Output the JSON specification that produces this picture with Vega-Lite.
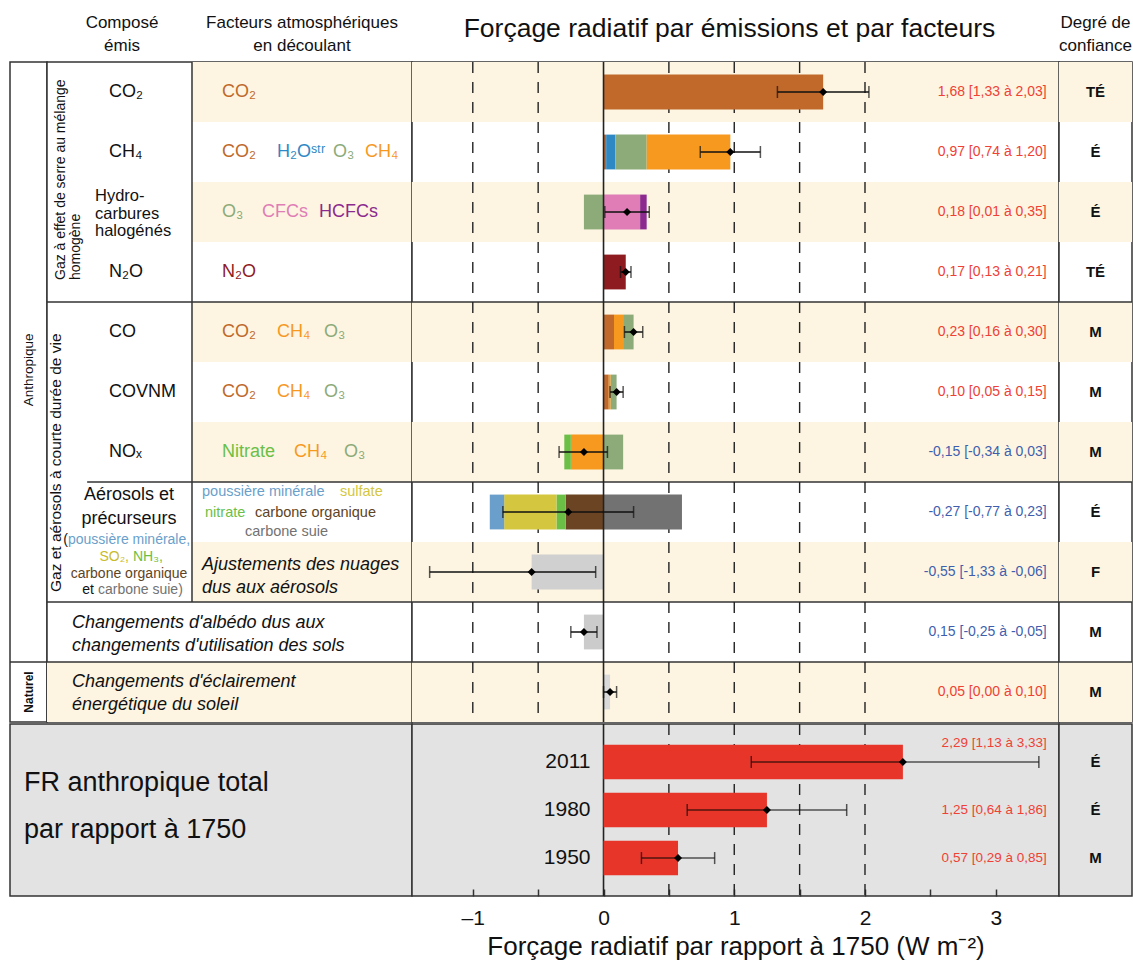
{
"$schema": "https://vega.github.io/schema/vega-lite/v6.json",
"background": "white",
"padding": {"left": 8, "top": 12, "right": 3, "bottom": 2},
"config": {"font": "Liberation Sans", "view": {"stroke": null}, "concat": {"spacing": 0}},
"datasets": {
 "lignes": [
  {"row":"CO2","valeur":1.68,"bas":1.33,"haut":2.03,"etiquette":"1,68 [1,33 à 2,03]","conf":"TÉ"},
  {"row":"CH4","valeur":0.97,"bas":0.74,"haut":1.20,"etiquette":"0,97 [0,74 à 1,20]","conf":"É"},
  {"row":"Halo","valeur":0.18,"bas":0.01,"haut":0.35,"etiquette":"0,18 [0,01 à 0,35]","conf":"É"},
  {"row":"N2O","valeur":0.17,"bas":0.13,"haut":0.21,"etiquette":"0,17 [0,13 à 0,21]","conf":"TÉ"},
  {"row":"CO","valeur":0.23,"bas":0.16,"haut":0.30,"etiquette":"0,23 [0,16 à 0,30]","conf":"M"},
  {"row":"COVNM","valeur":0.10,"bas":0.05,"haut":0.15,"etiquette":"0,10 [0,05 à 0,15]","conf":"M"},
  {"row":"NOx","valeur":-0.15,"bas":-0.34,"haut":0.03,"etiquette":"-0,15 [-0,34 à 0,03]","conf":"M"},
  {"row":"Aer","valeur":-0.27,"bas":-0.77,"haut":0.23,"etiquette":"-0,27 [-0,77 à 0,23]","conf":"É"},
  {"row":"Nuages","valeur":-0.55,"bas":-1.33,"haut":-0.06,"etiquette":"-0,55 [-1,33 à -0,06]","conf":"F"},
  {"row":"Albedo","valeur":-0.15,"bas":-0.25,"haut":-0.05,"etiquette":"0,15 [-0,25 à -0,05]","conf":"M"},
  {"row":"Soleil","valeur":0.05,"bas":0.00,"haut":0.10,"etiquette":"0,05 [0,00 à 0,10]","conf":"M"}
 ],
 "composantes": [
  {"row":"CO2","comp":"CO2","val":1.68,"ordre":1},
  {"row":"CH4","comp":"CO2","val":0.02,"ordre":1},
  {"row":"CH4","comp":"H2O","val":0.07,"ordre":2},
  {"row":"CH4","comp":"O3","val":0.24,"ordre":3},
  {"row":"CH4","comp":"CH4","val":0.64,"ordre":4},
  {"row":"Halo","comp":"O3","val":-0.15,"ordre":1},
  {"row":"Halo","comp":"CFC","val":0.28,"ordre":2},
  {"row":"Halo","comp":"HCFC","val":0.05,"ordre":3},
  {"row":"N2O","comp":"N2O","val":0.17,"ordre":1},
  {"row":"CO","comp":"CO2","val":0.08,"ordre":1},
  {"row":"CO","comp":"CH4","val":0.07,"ordre":2},
  {"row":"CO","comp":"O3","val":0.08,"ordre":3},
  {"row":"COVNM","comp":"CO2","val":0.04,"ordre":1},
  {"row":"COVNM","comp":"CH4","val":0.015,"ordre":2},
  {"row":"COVNM","comp":"O3","val":0.045,"ordre":3},
  {"row":"NOx","comp":"CH4","val":-0.25,"ordre":1},
  {"row":"NOx","comp":"Nitrate","val":-0.05,"ordre":2},
  {"row":"NOx","comp":"O3","val":0.15,"ordre":3},
  {"row":"Aer","comp":"COrg","val":-0.29,"ordre":1},
  {"row":"Aer","comp":"Nitrate","val":-0.07,"ordre":2},
  {"row":"Aer","comp":"Sulfate","val":-0.40,"ordre":3},
  {"row":"Aer","comp":"Poussiere","val":-0.11,"ordre":4},
  {"row":"Aer","comp":"Suie","val":0.60,"ordre":5},
  {"row":"Nuages","comp":"Nuages","val":-0.55,"ordre":1},
  {"row":"Albedo","comp":"Albedo","val":-0.15,"ordre":1},
  {"row":"Soleil","comp":"Soleil","val":0.05,"ordre":1}
 ],
 "totaux": [
  {"row":"2011","valeur":2.29,"bas":1.13,"haut":3.33,"etiquette":"2,29 [1,13 à 3,33]","conf":"É"},
  {"row":"1980","valeur":1.25,"bas":0.64,"haut":1.86,"etiquette":"1,25 [0,64 à 1,86]","conf":"É"},
  {"row":"1950","valeur":0.57,"bas":0.29,"haut":0.85,"etiquette":"0,57 [0,29 à 0,85]","conf":"M"}
 ],
 "noms": [
  {"row":"CO2","t":"CO₂"},
  {"row":"CH4","t":"CH₄"},
  {"row":"N2O","t":"N₂O"},
  {"row":"CO","t":"CO"},
  {"row":"COVNM","t":"COVNM"},
  {"row":"NOx","t":"NOₓ"}
 ],
 "jetons": [
  {"row":"CO2","ordre":1,"comp":"CO2","t":"CO₂"},
  {"row":"CH4","ordre":1,"comp":"CO2","t":"CO₂"},
  {"row":"CH4","ordre":2,"comp":"H2O","t":"H₂Oˢᵗʳ"},
  {"row":"CH4","ordre":3,"comp":"O3","t":"O₃"},
  {"row":"CH4","ordre":4,"comp":"CH4","t":"CH₄"},
  {"row":"Halo","ordre":1,"comp":"O3","t":"O₃"},
  {"row":"Halo","ordre":2,"comp":"CFC","t":"CFCs"},
  {"row":"Halo","ordre":3,"comp":"HCFC","t":"HCFCs"},
  {"row":"N2O","ordre":1,"comp":"N2O","t":"N₂O"},
  {"row":"CO","ordre":1,"comp":"CO2","t":"CO₂"},
  {"row":"CO","ordre":2,"comp":"CH4","t":"CH₄"},
  {"row":"CO","ordre":3,"comp":"O3","t":"O₃"},
  {"row":"COVNM","ordre":1,"comp":"CO2","t":"CO₂"},
  {"row":"COVNM","ordre":2,"comp":"CH4","t":"CH₄"},
  {"row":"COVNM","ordre":3,"comp":"O3","t":"O₃"},
  {"row":"NOx","ordre":1,"comp":"Nitrate","t":"Nitrate"},
  {"row":"NOx","ordre":2,"comp":"CH4","t":"CH₄"},
  {"row":"NOx","ordre":3,"comp":"O3","t":"O₃"}
 ]
},
"spacing": -4,
"vconcat": [
 {
  "spacing": 0,
  "bounds": "flush",
  "hconcat": [
   {
    "width": 37, "height": 660,
    "view": {"fill": "white", "stroke": "#333", "strokeWidth": 1.5},
    "title": {"text": ["Composé", "émis"], "fontSize": 17, "fontWeight": "normal", "color": "#111", "anchor": "middle", "baseline": "bottom", "offset": -9.5, "lineHeight": 23, "dx": 93.5},
    "layer": [
     {"data": {"values": [{"row": "Soleil"}]}, "mark": {"type": "rule", "color": "#333", "strokeWidth": 1.5},
      "encoding": {"y": {"field": "row", "type": "nominal", "bandPosition": 0, "scale": {"type":"band","domain":["CO2","CH4","Halo","N2O","CO","COVNM","NOx","Aer","Nuages","Albedo","Soleil"],"paddingInner":0,"paddingOuter":0}, "axis": null}}},
     {"data": {"values": [{"t": "Anthropique"}]}, "mark": {"type": "text", "angle": 270, "fontSize": 13.5, "align": "center", "baseline": "middle", "color": "#111"},
      "encoding": {"text": {"field": "t", "type": "nominal"}, "y": {"datum": "COVNM", "type": "nominal", "bandPosition": 0.13, "scale": {"type":"band","domain":["CO2","CH4","Halo","N2O","CO","COVNM","NOx","Aer","Nuages","Albedo","Soleil"],"paddingInner":0,"paddingOuter":0}, "axis": null}}},
     {"data": {"values": [{"t": "Naturel"}]}, "mark": {"type": "text", "angle": 270, "fontSize": 12, "fontWeight": "bold", "align": "center", "baseline": "middle", "color": "#111"},
      "encoding": {"text": {"field": "t", "type": "nominal"}, "y": {"datum": "Soleil", "type": "nominal", "scale": {"type":"band","domain":["CO2","CH4","Halo","N2O","CO","COVNM","NOx","Aer","Nuages","Albedo","Soleil"],"paddingInner":0,"paddingOuter":0}, "axis": null}}}
    ]
   },
   {
    "width": 365, "height": 660,
    "view": {"fill": "white", "stroke": "#333", "strokeWidth": 1.5},
    "title": {"text": ["Facteurs atmosphériques", "en découlant"], "fontSize": 17, "fontWeight": "normal", "color": "#111", "anchor": "middle", "baseline": "bottom", "offset": -9.5, "lineHeight": 23, "dx": 72.5},
    "layer": [
     {"data": {"name": "lignes"}, "transform": [{"filter": {"field": "row", "oneOf": ["CO2","Halo","CO","NOx","Nuages"]}}],
      "mark": {"type": "rect", "color": "#fdf5e1"},
      "encoding": {"x": {"datum": 0.3973, "type": "quantitative", "scale": {"domain":[0,1],"nice":false,"zero":false}, "axis": null}, "x2": {"datum": 1},
       "y": {"field": "row", "type": "nominal", "scale": {"type":"band","domain":["CO2","CH4","Halo","N2O","CO","COVNM","NOx","Aer","Nuages","Albedo","Soleil"],"paddingInner":0,"paddingOuter":0}, "axis": null}}},
     {"data": {"name": "lignes"}, "transform": [{"filter": {"field": "row", "oneOf": ["Soleil"]}}],
      "mark": {"type": "rect", "color": "#fdf5e1"},
      "encoding": {"x": {"datum": 0, "type": "quantitative", "scale": {"domain":[0,1],"nice":false,"zero":false}, "axis": null}, "x2": {"datum": 1},
       "y": {"field": "row", "type": "nominal", "scale": {"type":"band","domain":["CO2","CH4","Halo","N2O","CO","COVNM","NOx","Aer","Nuages","Albedo","Soleil"],"paddingInner":0,"paddingOuter":0}, "axis": null}}},
     {"data": {"name": "lignes"}, "transform": [{"filter": {"field": "row", "oneOf": ["CO2","CH4","Halo","N2O","CO","COVNM","NOx","Aer","Nuages"]}}],
      "mark": {"type": "rect", "color": "#333"},
      "encoding": {"x": {"datum": 0.3952, "type": "quantitative", "scale": {"domain":[0,1],"nice":false,"zero":false}, "axis": null}, "x2": {"datum": 0.3993},
       "y": {"field": "row", "type": "nominal", "scale": {"type":"band","domain":["CO2","CH4","Halo","N2O","CO","COVNM","NOx","Aer","Nuages","Albedo","Soleil"],"paddingInner":0,"paddingOuter":0}, "axis": null}}},
     {"data": {"values": [{"row": "CO"}, {"row": "Albedo"}, {"row": "Soleil"}]},
      "mark": {"type": "rule", "color": "#333", "strokeWidth": 1.5},
      "encoding": {"x": {"datum": 0, "type": "quantitative", "scale": {"domain":[0,1],"nice":false,"zero":false}, "axis": null}, "x2": {"datum": 1},
       "y": {"field": "row", "type": "nominal", "bandPosition": 0, "scale": {"type":"band","domain":["CO2","CH4","Halo","N2O","CO","COVNM","NOx","Aer","Nuages","Albedo","Soleil"],"paddingInner":0,"paddingOuter":0}, "axis": null}}},
     {"data": {"values": [{"row": "Aer"}]},
      "mark": {"type": "rule", "color": "#333", "strokeWidth": 1.5},
      "encoding": {"x": {"datum": 0.11, "type": "quantitative", "scale": {"domain":[0,1],"nice":false,"zero":false}, "axis": null}, "x2": {"datum": 1},
       "y": {"field": "row", "type": "nominal", "bandPosition": 0, "scale": {"type":"band","domain":["CO2","CH4","Halo","N2O","CO","COVNM","NOx","Aer","Nuages","Albedo","Soleil"],"paddingInner":0,"paddingOuter":0}, "axis": null}}},
     {"data": {"name": "noms"},
      "mark": {"type": "text", "align": "left", "baseline": "middle", "fontSize": 18, "color": "#111"},
      "encoding": {"text": {"field": "t", "type": "nominal"},
       "x": {"datum": 0.170, "type": "quantitative", "scale": {"domain":[0,1],"nice":false,"zero":false}, "axis": null},
       "y": {"field": "row", "type": "nominal", "scale": {"type":"band","domain":["CO2","CH4","Halo","N2O","CO","COVNM","NOx","Aer","Nuages","Albedo","Soleil"],"paddingInner":0,"paddingOuter":0}, "axis": null}}},
     {"data": {"values": [{"t": ["Hydro-", "carbures", "halogénés"]}]},
      "mark": {"type": "text", "align": "left", "baseline": "middle", "fontSize": 16.5, "lineHeight": 17.5, "color": "#111"},
      "encoding": {"text": {"field": "t", "type": "nominal"},
       "x": {"datum": 0.1315, "type": "quantitative", "scale": {"domain":[0,1],"nice":false,"zero":false}, "axis": null},
       "y": {"datum": "Halo", "type": "nominal", "bandPosition": 0.24, "scale": {"type":"band","domain":["CO2","CH4","Halo","N2O","CO","COVNM","NOx","Aer","Nuages","Albedo","Soleil"],"paddingInner":0,"paddingOuter":0}, "axis": null}}},
     {"data": {"name": "jetons"}, "transform": [{"filter": "datum.ordre == 1"}],
      "mark": {"type": "text", "align": "left", "baseline": "middle", "fontSize": 18},
      "encoding": {"text": {"field": "t", "type": "nominal"},
       "color": {"field": "comp", "type": "nominal", "legend": null, "scale": {"domain": ["CO2","H2O","O3","CH4","CFC","HCFC","N2O","Nitrate","Poussiere","Sulfate","COrg","Suie","Nuages","Albedo","Soleil","Noir"], "range": ["#c0692b","#2e88c4","#8cab79","#f7991f","#e07db6","#8c2a8f","#8e1b1f","#6bbf47","#6a9fcb","#d4c73f","#6b4423","#727272","#d0d0d0","#cbcbcb","#d9d9d9","#111111"]}},
       "x": {"datum": 0.4795, "type": "quantitative", "scale": {"domain":[0,1],"nice":false,"zero":false}, "axis": null},
       "y": {"field": "row", "type": "nominal", "scale": {"type":"band","domain":["CO2","CH4","Halo","N2O","CO","COVNM","NOx","Aer","Nuages","Albedo","Soleil"],"paddingInner":0,"paddingOuter":0}, "axis": null}}},
     {"data": {"name": "jetons"}, "transform": [{"filter": "datum.ordre == 2 && indexof(['CH4','CO','COVNM'], datum.row) >= 0"}],
      "mark": {"type": "text", "align": "left", "baseline": "middle", "fontSize": 18},
      "encoding": {"text": {"field": "t", "type": "nominal"},
       "color": {"field": "comp", "type": "nominal", "legend": null, "scale": {"domain": ["CO2","H2O","O3","CH4","CFC","HCFC","N2O","Nitrate","Poussiere","Sulfate","COrg","Suie","Nuages","Albedo","Soleil","Noir"], "range": ["#c0692b","#2e88c4","#8cab79","#f7991f","#e07db6","#8c2a8f","#8e1b1f","#6bbf47","#6a9fcb","#d4c73f","#6b4423","#727272","#d0d0d0","#cbcbcb","#d9d9d9","#111111"]}},
       "x": {"datum": 0.6301, "type": "quantitative", "scale": {"domain":[0,1],"nice":false,"zero":false}, "axis": null},
       "y": {"field": "row", "type": "nominal", "scale": {"type":"band","domain":["CO2","CH4","Halo","N2O","CO","COVNM","NOx","Aer","Nuages","Albedo","Soleil"],"paddingInner":0,"paddingOuter":0}, "axis": null}}},
     {"data": {"name": "jetons"}, "transform": [{"filter": "datum.ordre == 2 && datum.row == 'Halo'"}],
      "mark": {"type": "text", "align": "left", "baseline": "middle", "fontSize": 18},
      "encoding": {"text": {"field": "t", "type": "nominal"},
       "color": {"field": "comp", "type": "nominal", "legend": null, "scale": {"domain": ["CO2","H2O","O3","CH4","CFC","HCFC","N2O","Nitrate","Poussiere","Sulfate","COrg","Suie","Nuages","Albedo","Soleil","Noir"], "range": ["#c0692b","#2e88c4","#8cab79","#f7991f","#e07db6","#8c2a8f","#8e1b1f","#6bbf47","#6a9fcb","#d4c73f","#6b4423","#727272","#d0d0d0","#cbcbcb","#d9d9d9","#111111"]}},
       "x": {"datum": 0.589, "type": "quantitative", "scale": {"domain":[0,1],"nice":false,"zero":false}, "axis": null},
       "y": {"field": "row", "type": "nominal", "scale": {"type":"band","domain":["CO2","CH4","Halo","N2O","CO","COVNM","NOx","Aer","Nuages","Albedo","Soleil"],"paddingInner":0,"paddingOuter":0}, "axis": null}}},
     {"data": {"name": "jetons"}, "transform": [{"filter": "datum.ordre == 2 && datum.row == 'NOx'"}],
      "mark": {"type": "text", "align": "left", "baseline": "middle", "fontSize": 18},
      "encoding": {"text": {"field": "t", "type": "nominal"},
       "color": {"field": "comp", "type": "nominal", "legend": null, "scale": {"domain": ["CO2","H2O","O3","CH4","CFC","HCFC","N2O","Nitrate","Poussiere","Sulfate","COrg","Suie","Nuages","Albedo","Soleil","Noir"], "range": ["#c0692b","#2e88c4","#8cab79","#f7991f","#e07db6","#8c2a8f","#8e1b1f","#6bbf47","#6a9fcb","#d4c73f","#6b4423","#727272","#d0d0d0","#cbcbcb","#d9d9d9","#111111"]}},
       "x": {"datum": 0.6767, "type": "quantitative", "scale": {"domain":[0,1],"nice":false,"zero":false}, "axis": null},
       "y": {"field": "row", "type": "nominal", "scale": {"type":"band","domain":["CO2","CH4","Halo","N2O","CO","COVNM","NOx","Aer","Nuages","Albedo","Soleil"],"paddingInner":0,"paddingOuter":0}, "axis": null}}},
     {"data": {"name": "jetons"}, "transform": [{"filter": "datum.ordre == 3 && datum.row == 'CH4'"}],
      "mark": {"type": "text", "align": "left", "baseline": "middle", "fontSize": 18},
      "encoding": {"text": {"field": "t", "type": "nominal"},
       "color": {"field": "comp", "type": "nominal", "legend": null, "scale": {"domain": ["CO2","H2O","O3","CH4","CFC","HCFC","N2O","Nitrate","Poussiere","Sulfate","COrg","Suie","Nuages","Albedo","Soleil","Noir"], "range": ["#c0692b","#2e88c4","#8cab79","#f7991f","#e07db6","#8c2a8f","#8e1b1f","#6bbf47","#6a9fcb","#d4c73f","#6b4423","#727272","#d0d0d0","#cbcbcb","#d9d9d9","#111111"]}},
       "x": {"datum": 0.7836, "type": "quantitative", "scale": {"domain":[0,1],"nice":false,"zero":false}, "axis": null},
       "y": {"field": "row", "type": "nominal", "scale": {"type":"band","domain":["CO2","CH4","Halo","N2O","CO","COVNM","NOx","Aer","Nuages","Albedo","Soleil"],"paddingInner":0,"paddingOuter":0}, "axis": null}}},
     {"data": {"name": "jetons"}, "transform": [{"filter": "datum.ordre == 3 && indexof(['CO','COVNM'], datum.row) >= 0"}],
      "mark": {"type": "text", "align": "left", "baseline": "middle", "fontSize": 18},
      "encoding": {"text": {"field": "t", "type": "nominal"},
       "color": {"field": "comp", "type": "nominal", "legend": null, "scale": {"domain": ["CO2","H2O","O3","CH4","CFC","HCFC","N2O","Nitrate","Poussiere","Sulfate","COrg","Suie","Nuages","Albedo","Soleil","Noir"], "range": ["#c0692b","#2e88c4","#8cab79","#f7991f","#e07db6","#8c2a8f","#8e1b1f","#6bbf47","#6a9fcb","#d4c73f","#6b4423","#727272","#d0d0d0","#cbcbcb","#d9d9d9","#111111"]}},
       "x": {"datum": 0.7589, "type": "quantitative", "scale": {"domain":[0,1],"nice":false,"zero":false}, "axis": null},
       "y": {"field": "row", "type": "nominal", "scale": {"type":"band","domain":["CO2","CH4","Halo","N2O","CO","COVNM","NOx","Aer","Nuages","Albedo","Soleil"],"paddingInner":0,"paddingOuter":0}, "axis": null}}},
     {"data": {"name": "jetons"}, "transform": [{"filter": "datum.ordre == 3 && datum.row == 'NOx'"}],
      "mark": {"type": "text", "align": "left", "baseline": "middle", "fontSize": 18},
      "encoding": {"text": {"field": "t", "type": "nominal"},
       "color": {"field": "comp", "type": "nominal", "legend": null, "scale": {"domain": ["CO2","H2O","O3","CH4","CFC","HCFC","N2O","Nitrate","Poussiere","Sulfate","COrg","Suie","Nuages","Albedo","Soleil","Noir"], "range": ["#c0692b","#2e88c4","#8cab79","#f7991f","#e07db6","#8c2a8f","#8e1b1f","#6bbf47","#6a9fcb","#d4c73f","#6b4423","#727272","#d0d0d0","#cbcbcb","#d9d9d9","#111111"]}},
       "x": {"datum": 0.8137, "type": "quantitative", "scale": {"domain":[0,1],"nice":false,"zero":false}, "axis": null},
       "y": {"field": "row", "type": "nominal", "scale": {"type":"band","domain":["CO2","CH4","Halo","N2O","CO","COVNM","NOx","Aer","Nuages","Albedo","Soleil"],"paddingInner":0,"paddingOuter":0}, "axis": null}}},
     {"data": {"name": "jetons"}, "transform": [{"filter": "datum.ordre == 3 && datum.row == 'Halo'"}],
      "mark": {"type": "text", "align": "left", "baseline": "middle", "fontSize": 18},
      "encoding": {"text": {"field": "t", "type": "nominal"},
       "color": {"field": "comp", "type": "nominal", "legend": null, "scale": {"domain": ["CO2","H2O","O3","CH4","CFC","HCFC","N2O","Nitrate","Poussiere","Sulfate","COrg","Suie","Nuages","Albedo","Soleil","Noir"], "range": ["#c0692b","#2e88c4","#8cab79","#f7991f","#e07db6","#8c2a8f","#8e1b1f","#6bbf47","#6a9fcb","#d4c73f","#6b4423","#727272","#d0d0d0","#cbcbcb","#d9d9d9","#111111"]}},
       "x": {"datum": 0.7452, "type": "quantitative", "scale": {"domain":[0,1],"nice":false,"zero":false}, "axis": null},
       "y": {"field": "row", "type": "nominal", "scale": {"type":"band","domain":["CO2","CH4","Halo","N2O","CO","COVNM","NOx","Aer","Nuages","Albedo","Soleil"],"paddingInner":0,"paddingOuter":0}, "axis": null}}},
     {"data": {"name": "jetons"}, "transform": [{"filter": "datum.ordre == 4"}],
      "mark": {"type": "text", "align": "left", "baseline": "middle", "fontSize": 18},
      "encoding": {"text": {"field": "t", "type": "nominal"},
       "color": {"field": "comp", "type": "nominal", "legend": null, "scale": {"domain": ["CO2","H2O","O3","CH4","CFC","HCFC","N2O","Nitrate","Poussiere","Sulfate","COrg","Suie","Nuages","Albedo","Soleil","Noir"], "range": ["#c0692b","#2e88c4","#8cab79","#f7991f","#e07db6","#8c2a8f","#8e1b1f","#6bbf47","#6a9fcb","#d4c73f","#6b4423","#727272","#d0d0d0","#cbcbcb","#d9d9d9","#111111"]}},
       "x": {"datum": 0.8712, "type": "quantitative", "scale": {"domain":[0,1],"nice":false,"zero":false}, "axis": null},
       "y": {"field": "row", "type": "nominal", "scale": {"type":"band","domain":["CO2","CH4","Halo","N2O","CO","COVNM","NOx","Aer","Nuages","Albedo","Soleil"],"paddingInner":0,"paddingOuter":0}, "axis": null}}},
     {"data": {"values": [{"t": "poussière minérale"}]},
      "mark": {"type": "text", "align": "left", "baseline": "middle", "fontSize": 14.5, "color": "#6a9fcb"},
      "encoding": {"text": {"field": "t", "type": "nominal"},
       "x": {"datum": 0.4247, "type": "quantitative", "scale": {"domain":[0,1],"nice":false,"zero":false}, "axis": null},
       "y": {"datum": "Aer", "type": "nominal", "bandPosition": 0.167, "scale": {"type":"band","domain":["CO2","CH4","Halo","N2O","CO","COVNM","NOx","Aer","Nuages","Albedo","Soleil"],"paddingInner":0,"paddingOuter":0}, "axis": null}}},
     {"data": {"values": [{"t": "sulfate"}]},
      "mark": {"type": "text", "align": "left", "baseline": "middle", "fontSize": 14.5, "color": "#d4c73f"},
      "encoding": {"text": {"field": "t", "type": "nominal"},
       "x": {"datum": 0.8027, "type": "quantitative", "scale": {"domain":[0,1],"nice":false,"zero":false}, "axis": null},
       "y": {"datum": "Aer", "type": "nominal", "bandPosition": 0.167, "scale": {"type":"band","domain":["CO2","CH4","Halo","N2O","CO","COVNM","NOx","Aer","Nuages","Albedo","Soleil"],"paddingInner":0,"paddingOuter":0}, "axis": null}}},
     {"data": {"values": [{"t": "nitrate"}]},
      "mark": {"type": "text", "align": "left", "baseline": "middle", "fontSize": 14.5, "color": "#6bbf47"},
      "encoding": {"text": {"field": "t", "type": "nominal"},
       "x": {"datum": 0.4329, "type": "quantitative", "scale": {"domain":[0,1],"nice":false,"zero":false}, "axis": null},
       "y": {"datum": "Aer", "type": "nominal", "bandPosition": 0.517, "scale": {"type":"band","domain":["CO2","CH4","Halo","N2O","CO","COVNM","NOx","Aer","Nuages","Albedo","Soleil"],"paddingInner":0,"paddingOuter":0}, "axis": null}}},
     {"data": {"values": [{"t": "carbone organique"}]},
      "mark": {"type": "text", "align": "left", "baseline": "middle", "fontSize": 14.5, "color": "#5e4424"},
      "encoding": {"text": {"field": "t", "type": "nominal"},
       "x": {"datum": 0.5699, "type": "quantitative", "scale": {"domain":[0,1],"nice":false,"zero":false}, "axis": null},
       "y": {"datum": "Aer", "type": "nominal", "bandPosition": 0.517, "scale": {"type":"band","domain":["CO2","CH4","Halo","N2O","CO","COVNM","NOx","Aer","Nuages","Albedo","Soleil"],"paddingInner":0,"paddingOuter":0}, "axis": null}}},
     {"data": {"values": [{"t": "carbone suie"}]},
      "mark": {"type": "text", "align": "left", "baseline": "middle", "fontSize": 14.5, "color": "#727272"},
      "encoding": {"text": {"field": "t", "type": "nominal"},
       "x": {"datum": 0.5425, "type": "quantitative", "scale": {"domain":[0,1],"nice":false,"zero":false}, "axis": null},
       "y": {"datum": "Aer", "type": "nominal", "bandPosition": 0.833, "scale": {"type":"band","domain":["CO2","CH4","Halo","N2O","CO","COVNM","NOx","Aer","Nuages","Albedo","Soleil"],"paddingInner":0,"paddingOuter":0}, "axis": null}}},
     {"data": {"values": [{"t": ["Aérosols et", "précurseurs"]}]},
      "mark": {"type": "text", "align": "center", "baseline": "middle", "fontSize": 18, "lineHeight": 24, "color": "#111"},
      "encoding": {"text": {"field": "t", "type": "nominal"},
       "x": {"datum": 0.2247, "type": "quantitative", "scale": {"domain":[0,1],"nice":false,"zero":false}, "axis": null},
       "y": {"datum": "Aer", "type": "nominal", "bandPosition": 0.217, "scale": {"type":"band","domain":["CO2","CH4","Halo","N2O","CO","COVNM","NOx","Aer","Nuages","Albedo","Soleil"],"paddingInner":0,"paddingOuter":0}, "axis": null}}},
     {"data": {"values": [{"t": "("}]},
      "mark": {"type": "text", "align": "right", "baseline": "middle", "fontSize": 14, "color": "#111"},
      "encoding": {"text": {"field": "t", "type": "nominal"},
       "x": {"datum": 0.0575, "type": "quantitative", "scale": {"domain":[0,1],"nice":false,"zero":false}, "axis": null},
       "y": {"datum": "Aer", "type": "nominal", "bandPosition": 0.967, "scale": {"type":"band","domain":["CO2","CH4","Halo","N2O","CO","COVNM","NOx","Aer","Nuages","Albedo","Soleil"],"paddingInner":0,"paddingOuter":0}, "axis": null}}},
     {"data": {"values": [{"t": "poussière minérale,"}]},
      "mark": {"type": "text", "align": "left", "baseline": "middle", "fontSize": 14, "color": "#6a9fcb"},
      "encoding": {"text": {"field": "t", "type": "nominal"},
       "x": {"datum": 0.0575, "type": "quantitative", "scale": {"domain":[0,1],"nice":false,"zero":false}, "axis": null},
       "y": {"datum": "Aer", "type": "nominal", "bandPosition": 0.967, "scale": {"type":"band","domain":["CO2","CH4","Halo","N2O","CO","COVNM","NOx","Aer","Nuages","Albedo","Soleil"],"paddingInner":0,"paddingOuter":0}, "axis": null}}},
     {"data": {"values": [{"t": "SO₂,"}]},
      "mark": {"type": "text", "align": "right", "baseline": "middle", "fontSize": 14, "color": "#c9bb2c"},
      "encoding": {"text": {"field": "t", "type": "nominal"},
       "x": {"datum": 0.2247, "type": "quantitative", "scale": {"domain":[0,1],"nice":false,"zero":false}, "axis": null},
       "y": {"datum": "Nuages", "type": "nominal", "bandPosition": 0.25, "scale": {"type":"band","domain":["CO2","CH4","Halo","N2O","CO","COVNM","NOx","Aer","Nuages","Albedo","Soleil"],"paddingInner":0,"paddingOuter":0}, "axis": null}}},
     {"data": {"values": [{"t": "NH₃,"}]},
      "mark": {"type": "text", "align": "left", "baseline": "middle", "fontSize": 14, "color": "#6bbf47"},
      "encoding": {"text": {"field": "t", "type": "nominal"},
       "x": {"datum": 0.2356, "type": "quantitative", "scale": {"domain":[0,1],"nice":false,"zero":false}, "axis": null},
       "y": {"datum": "Nuages", "type": "nominal", "bandPosition": 0.25, "scale": {"type":"band","domain":["CO2","CH4","Halo","N2O","CO","COVNM","NOx","Aer","Nuages","Albedo","Soleil"],"paddingInner":0,"paddingOuter":0}, "axis": null}}},
     {"data": {"values": [{"t": "carbone organique"}]},
      "mark": {"type": "text", "align": "center", "baseline": "middle", "fontSize": 14, "color": "#5e4424"},
      "encoding": {"text": {"field": "t", "type": "nominal"},
       "x": {"datum": 0.2247, "type": "quantitative", "scale": {"domain":[0,1],"nice":false,"zero":false}, "axis": null},
       "y": {"datum": "Nuages", "type": "nominal", "bandPosition": 0.533, "scale": {"type":"band","domain":["CO2","CH4","Halo","N2O","CO","COVNM","NOx","Aer","Nuages","Albedo","Soleil"],"paddingInner":0,"paddingOuter":0}, "axis": null}}},
     {"data": {"values": [{"t": "et"}]},
      "mark": {"type": "text", "align": "right", "baseline": "middle", "fontSize": 14, "color": "#111"},
      "encoding": {"text": {"field": "t", "type": "nominal"},
       "x": {"datum": 0.1288, "type": "quantitative", "scale": {"domain":[0,1],"nice":false,"zero":false}, "axis": null},
       "y": {"datum": "Nuages", "type": "nominal", "bandPosition": 0.8, "scale": {"type":"band","domain":["CO2","CH4","Halo","N2O","CO","COVNM","NOx","Aer","Nuages","Albedo","Soleil"],"paddingInner":0,"paddingOuter":0}, "axis": null}}},
     {"data": {"values": [{"t": "carbone suie)"}]},
      "mark": {"type": "text", "align": "left", "baseline": "middle", "fontSize": 14, "color": "#727272"},
      "encoding": {"text": {"field": "t", "type": "nominal"},
       "x": {"datum": 0.1397, "type": "quantitative", "scale": {"domain":[0,1],"nice":false,"zero":false}, "axis": null},
       "y": {"datum": "Nuages", "type": "nominal", "bandPosition": 0.8, "scale": {"type":"band","domain":["CO2","CH4","Halo","N2O","CO","COVNM","NOx","Aer","Nuages","Albedo","Soleil"],"paddingInner":0,"paddingOuter":0}, "axis": null}}},
     {"data": {"values": [{"t": ["Gaz à effet de serre au mélange", "homogène"]}]},
      "mark": {"type": "text", "angle": 270, "align": "left", "baseline": "top", "fontSize": 14, "lineHeight": 15, "color": "#111"},
      "encoding": {"text": {"field": "t", "type": "nominal"},
       "x": {"datum": 0.019, "type": "quantitative", "scale": {"domain":[0,1],"nice":false,"zero":false}, "axis": null},
       "y": {"datum": "N2O", "type": "nominal", "bandPosition": 0.633, "scale": {"type":"band","domain":["CO2","CH4","Halo","N2O","CO","COVNM","NOx","Aer","Nuages","Albedo","Soleil"],"paddingInner":0,"paddingOuter":0}, "axis": null}}},
     {"data": {"values": [{"t": "Gaz et aérosols à courte durée de vie"}]},
      "mark": {"type": "text", "angle": 270, "align": "left", "baseline": "top", "fontSize": 15.5, "color": "#111"},
      "encoding": {"text": {"field": "t", "type": "nominal"},
       "x": {"datum": 0.006, "type": "quantitative", "scale": {"domain":[0,1],"nice":false,"zero":false}, "axis": null},
       "y": {"datum": "Nuages", "type": "nominal", "bandPosition": 0.833, "scale": {"type":"band","domain":["CO2","CH4","Halo","N2O","CO","COVNM","NOx","Aer","Nuages","Albedo","Soleil"],"paddingInner":0,"paddingOuter":0}, "axis": null}}},
     {"data": {"values": [{"t": ["Changements d'albédo dus aux", "changements d'utilisation des sols"]}]},
      "mark": {"type": "text", "align": "left", "baseline": "middle", "fontSize": 18, "fontStyle": "italic", "lineHeight": 23, "color": "#111"},
      "encoding": {"text": {"field": "t", "type": "nominal"},
       "x": {"datum": 0.0685, "type": "quantitative", "scale": {"domain":[0,1],"nice":false,"zero":false}, "axis": null},
       "y": {"datum": "Albedo", "type": "nominal", "bandPosition": 0.35, "scale": {"type":"band","domain":["CO2","CH4","Halo","N2O","CO","COVNM","NOx","Aer","Nuages","Albedo","Soleil"],"paddingInner":0,"paddingOuter":0}, "axis": null}}},
     {"data": {"values": [{"t": ["Changements d'éclairement", "énergétique du soleil"]}]},
      "mark": {"type": "text", "align": "left", "baseline": "middle", "fontSize": 18, "fontStyle": "italic", "lineHeight": 23, "color": "#111"},
      "encoding": {"text": {"field": "t", "type": "nominal"},
       "x": {"datum": 0.0685, "type": "quantitative", "scale": {"domain":[0,1],"nice":false,"zero":false}, "axis": null},
       "y": {"datum": "Soleil", "type": "nominal", "bandPosition": 0.333, "scale": {"type":"band","domain":["CO2","CH4","Halo","N2O","CO","COVNM","NOx","Aer","Nuages","Albedo","Soleil"],"paddingInner":0,"paddingOuter":0}, "axis": null}}},
     {"data": {"values": [{"t": ["Ajustements des nuages", "dus aux aérosols"]}]},
      "mark": {"type": "text", "align": "left", "baseline": "middle", "fontSize": 18, "fontStyle": "italic", "lineHeight": 23, "color": "#111"},
      "encoding": {"text": {"field": "t", "type": "nominal"},
       "x": {"datum": 0.4247, "type": "quantitative", "scale": {"domain":[0,1],"nice":false,"zero":false}, "axis": null},
       "y": {"datum": "Nuages", "type": "nominal", "bandPosition": 0.383, "scale": {"type":"band","domain":["CO2","CH4","Halo","N2O","CO","COVNM","NOx","Aer","Nuages","Albedo","Soleil"],"paddingInner":0,"paddingOuter":0}, "axis": null}}}
    ]
   },
   {
    "width": 647, "height": 660,
    "view": {"fill": "white", "stroke": "#333", "strokeWidth": 1.5},
    "title": {"text": "Forçage radiatif par émissions et par facteurs", "fontSize": 26.5, "fontWeight": "normal", "color": "#111", "anchor": "middle", "baseline": "bottom", "offset": -8.5, "dx": -6},
    "layer": [
     {"data": {"name": "lignes"}, "transform": [{"filter": {"field": "row", "oneOf": ["CO2","Halo","CO","NOx","Nuages","Soleil"]}}],
      "mark": {"type": "rect", "color": "#fdf5e1"},
      "encoding": {"x": {"datum": -1.465, "type": "quantitative", "scale": {"domain":[-1.465,3.484],"nice":false,"zero":false}}, "x2": {"datum": 3.484},
       "y": {"field": "row", "type": "nominal", "scale": {"type":"band","domain":["CO2","CH4","Halo","N2O","CO","COVNM","NOx","Aer","Nuages","Albedo","Soleil"],"paddingInner":0,"paddingOuter":0}, "axis": null}}},
     {"data": {"values": [{"row": "CO"}, {"row": "Aer"}, {"row": "Albedo"}, {"row": "Soleil"}]},
      "mark": {"type": "rule", "color": "#333", "strokeWidth": 1.5},
      "encoding": {"y": {"field": "row", "type": "nominal", "bandPosition": 0, "scale": {"type":"band","domain":["CO2","CH4","Halo","N2O","CO","COVNM","NOx","Aer","Nuages","Albedo","Soleil"],"paddingInner":0,"paddingOuter":0}, "axis": null}}},
     {"data": {"values": [{"v": -1}, {"v": -0.5}, {"v": 0.5}, {"v": 1}, {"v": 1.5}, {"v": 2}]},
      "mark": {"type": "rule", "color": "#222", "strokeWidth": 1.4, "strokeDash": [11, 9]},
      "encoding": {"x": {"field": "v", "type": "quantitative", "scale": {"domain":[-1.465,3.484],"nice":false,"zero":false},
        "axis": {"orient": "top", "values": [-1,-0.5,0,0.5,1,1.5,2,2.5,3], "labels": false, "domain": false, "grid": false, "ticks": true, "tickSize": -7, "tickColor": "#333", "tickWidth": 1.5, "title": null}}}},
     {"data": {"name": "composantes"},
      "mark": {"type": "bar", "height": {"band": 0.58}},
      "encoding": {"x": {"field": "val", "type": "quantitative", "stack": "zero", "scale": {"domain":[-1.465,3.484],"nice":false,"zero":false}},
       "y": {"field": "row", "type": "nominal", "scale": {"type":"band","domain":["CO2","CH4","Halo","N2O","CO","COVNM","NOx","Aer","Nuages","Albedo","Soleil"],"paddingInner":0,"paddingOuter":0}, "axis": null},
       "order": {"field": "ordre", "type": "quantitative"},
       "color": {"field": "comp", "type": "nominal", "legend": null, "scale": {"domain": ["CO2","H2O","O3","CH4","CFC","HCFC","N2O","Nitrate","Poussiere","Sulfate","COrg","Suie","Nuages","Albedo","Soleil","Noir"], "range": ["#c0692b","#2e88c4","#8cab79","#f7991f","#e07db6","#8c2a8f","#8e1b1f","#6bbf47","#6a9fcb","#d4c73f","#6b4423","#727272","#d0d0d0","#cbcbcb","#d9d9d9","#111111"]}}}},
     {"data": {"values": [{}]},
      "mark": {"type": "rule", "color": "#222", "strokeWidth": 1.6},
      "encoding": {"x": {"datum": 0, "type": "quantitative", "scale": {"domain":[-1.465,3.484],"nice":false,"zero":false}}}},
     {"data": {"name": "lignes"},
      "mark": {"type": "rule", "color": "#111", "strokeWidth": 1.5},
      "encoding": {"x": {"field": "bas", "type": "quantitative", "scale": {"domain":[-1.465,3.484],"nice":false,"zero":false}}, "x2": {"field": "haut"},
       "y": {"field": "row", "type": "nominal", "scale": {"type":"band","domain":["CO2","CH4","Halo","N2O","CO","COVNM","NOx","Aer","Nuages","Albedo","Soleil"],"paddingInner":0,"paddingOuter":0}, "axis": null}}},
     {"data": {"name": "lignes"}, "transform": [{"fold": ["bas", "haut"], "as": ["k", "v"]}],
      "mark": {"type": "tick", "size": 12, "thickness": 1.5, "color": "#111"},
      "encoding": {"x": {"field": "v", "type": "quantitative", "scale": {"domain":[-1.465,3.484],"nice":false,"zero":false}},
       "y": {"field": "row", "type": "nominal", "scale": {"type":"band","domain":["CO2","CH4","Halo","N2O","CO","COVNM","NOx","Aer","Nuages","Albedo","Soleil"],"paddingInner":0,"paddingOuter":0}, "axis": null}}},
     {"data": {"name": "lignes"},
      "mark": {"type": "point", "shape": "diamond", "filled": true, "size": 64, "color": "#000", "opacity": 1},
      "encoding": {"x": {"field": "valeur", "type": "quantitative", "scale": {"domain":[-1.465,3.484],"nice":false,"zero":false}},
       "y": {"field": "row", "type": "nominal", "scale": {"type":"band","domain":["CO2","CH4","Halo","N2O","CO","COVNM","NOx","Aer","Nuages","Albedo","Soleil"],"paddingInner":0,"paddingOuter":0}, "axis": null}}},
     {"data": {"name": "lignes"},
      "mark": {"type": "text", "align": "right", "baseline": "middle", "fontSize": 14},
      "encoding": {"text": {"field": "etiquette", "type": "nominal"},
       "x": {"datum": 3.39, "type": "quantitative", "scale": {"domain":[-1.465,3.484],"nice":false,"zero":false}},
       "y": {"field": "row", "type": "nominal", "scale": {"type":"band","domain":["CO2","CH4","Halo","N2O","CO","COVNM","NOx","Aer","Nuages","Albedo","Soleil"],"paddingInner":0,"paddingOuter":0}, "axis": null},
       "color": {"condition": {"test": "datum.valeur < 0", "value": "#3f5fae"}, "value": "#ef4136"}}}
    ]
   },
   {
    "width": 73, "height": 660,
    "view": {"fill": "white", "stroke": "#333", "strokeWidth": 1.5},
    "title": {"text": ["Degré de", "confiance"], "fontSize": 17, "fontWeight": "normal", "color": "#111", "anchor": "middle", "baseline": "bottom", "offset": -9.5, "lineHeight": 23},
    "layer": [
     {"data": {"name": "lignes"}, "transform": [{"filter": {"field": "row", "oneOf": ["CO2","Halo","CO","NOx","Nuages","Soleil"]}}],
      "mark": {"type": "rect", "color": "#fdf5e1"},
      "encoding": {"x": {"datum": 0, "type": "quantitative", "scale": {"domain":[0,1],"nice":false,"zero":false}, "axis": null}, "x2": {"datum": 1},
       "y": {"field": "row", "type": "nominal", "scale": {"type":"band","domain":["CO2","CH4","Halo","N2O","CO","COVNM","NOx","Aer","Nuages","Albedo","Soleil"],"paddingInner":0,"paddingOuter":0}, "axis": null}}},
     {"data": {"values": [{"row": "CO"}, {"row": "Aer"}, {"row": "Albedo"}, {"row": "Soleil"}]},
      "mark": {"type": "rule", "color": "#333", "strokeWidth": 1.5},
      "encoding": {"x": {"datum": 0, "type": "quantitative", "scale": {"domain":[0,1],"nice":false,"zero":false}, "axis": null}, "x2": {"datum": 1},
       "y": {"field": "row", "type": "nominal", "bandPosition": 0, "scale": {"type":"band","domain":["CO2","CH4","Halo","N2O","CO","COVNM","NOx","Aer","Nuages","Albedo","Soleil"],"paddingInner":0,"paddingOuter":0}, "axis": null}}},
     {"data": {"name": "lignes"},
      "mark": {"type": "text", "align": "center", "baseline": "middle", "fontSize": 15, "fontWeight": "bold", "color": "#111"},
      "encoding": {"text": {"field": "conf", "type": "nominal"},
       "x": {"datum": 0.5, "type": "quantitative", "scale": {"domain":[0,1],"nice":false,"zero":false}, "axis": null},
       "y": {"field": "row", "type": "nominal", "scale": {"type":"band","domain":["CO2","CH4","Halo","N2O","CO","COVNM","NOx","Aer","Nuages","Albedo","Soleil"],"paddingInner":0,"paddingOuter":0}, "axis": null}}}
    ]
   }
  ]
 },
 {
  "spacing": 0,
  "bounds": "flush",
  "hconcat": [
   {
    "width": 402, "height": 172,
    "view": {"fill": "#e3e3e3", "stroke": "#333", "strokeWidth": 1.5},
    "data": {"values": [{"t": ["FR anthropique total", "par rapport à 1750"]}]},
    "mark": {"type": "text", "align": "left", "baseline": "middle", "fontSize": 27, "lineHeight": 47, "color": "#111"},
    "encoding": {"text": {"field": "t", "type": "nominal"},
     "x": {"datum": 0.035, "type": "quantitative", "scale": {"domain":[0,1],"nice":false,"zero":false}, "axis": null},
     "y": {"datum": "2011", "type": "nominal", "bandPosition": 0.93, "scale": {"type":"band","domain":["2011","1980","1950"],"paddingInner":0,"paddingOuter":0.29}, "axis": null}}
   },
   {
    "width": 647, "height": 172,
    "view": {"fill": "#e3e3e3", "stroke": "#333", "strokeWidth": 1.5},
    "layer": [
     {"data": {"values": [{"v": 0.5}, {"v": 1}, {"v": 1.5}, {"v": 2}]},
      "mark": {"type": "rule", "color": "#222", "strokeWidth": 1.4, "strokeDash": [11, 9]},
      "encoding": {"x": {"field": "v", "type": "quantitative", "scale": {"domain":[-1.465,3.484],"nice":false,"zero":false},
        "axis": {"orient": "bottom", "values": [-1,-0.5,0,0.5,1,1.5,2,2.5,3], "labelExpr": "datum.value % 1 != 0 ? '' : (datum.value < 0 ? '–' + (-datum.value) : '' + datum.value)", "labelFontSize": 21, "labelColor": "#111", "labelPadding": 18, "labelFlush": false, "domain": false, "grid": false, "ticks": true, "tickSize": -7, "tickColor": "#333", "tickWidth": 1.5,
          "title": "Forçage radiatif par rapport à 1750 (W m⁻²)", "titleFontSize": 26, "titleFontWeight": "normal", "titleColor": "#111", "titlePadding": 5}}}},
     {"data": {"values": [{}]},
      "mark": {"type": "rule", "color": "#222", "strokeWidth": 1.6},
      "encoding": {"x": {"datum": 0, "type": "quantitative", "scale": {"domain":[-1.465,3.484],"nice":false,"zero":false}}}},
     {"data": {"name": "totaux"},
      "mark": {"type": "bar", "height": {"band": 0.72}, "color": "#e8352a"},
      "encoding": {"x": {"field": "valeur", "type": "quantitative", "scale": {"domain":[-1.465,3.484],"nice":false,"zero":false}}, "x2": {"datum": 0},
       "y": {"field": "row", "type": "nominal", "scale": {"type":"band","domain":["2011","1980","1950"],"paddingInner":0,"paddingOuter":0.29}, "axis": null}}},
     {"data": {"name": "totaux"},
      "mark": {"type": "rule", "color": "#000", "strokeWidth": 1.6, "opacity": 0.65},
      "encoding": {"x": {"field": "bas", "type": "quantitative", "scale": {"domain":[-1.465,3.484],"nice":false,"zero":false}}, "x2": {"field": "haut"},
       "y": {"field": "row", "type": "nominal", "scale": {"type":"band","domain":["2011","1980","1950"],"paddingInner":0,"paddingOuter":0.29}, "axis": null}}},
     {"data": {"name": "totaux"}, "transform": [{"fold": ["bas", "haut"], "as": ["k", "v"]}],
      "mark": {"type": "tick", "size": 12, "thickness": 1.5, "color": "#111"},
      "encoding": {"x": {"field": "v", "type": "quantitative", "scale": {"domain":[-1.465,3.484],"nice":false,"zero":false}},
       "y": {"field": "row", "type": "nominal", "scale": {"type":"band","domain":["2011","1980","1950"],"paddingInner":0,"paddingOuter":0.29}, "axis": null}}},
     {"data": {"name": "totaux"},
      "mark": {"type": "point", "shape": "diamond", "filled": true, "size": 64, "color": "#000", "opacity": 1},
      "encoding": {"x": {"field": "valeur", "type": "quantitative", "scale": {"domain":[-1.465,3.484],"nice":false,"zero":false}},
       "y": {"field": "row", "type": "nominal", "scale": {"type":"band","domain":["2011","1980","1950"],"paddingInner":0,"paddingOuter":0.29}, "axis": null}}},
     {"data": {"name": "totaux"},
      "mark": {"type": "text", "align": "right", "baseline": "middle", "fontSize": 21, "dx": -13, "color": "#111"},
      "encoding": {"text": {"field": "row", "type": "nominal"},
       "x": {"datum": 0, "type": "quantitative", "scale": {"domain":[-1.465,3.484],"nice":false,"zero":false}},
       "y": {"field": "row", "type": "nominal", "scale": {"type":"band","domain":["2011","1980","1950"],"paddingInner":0,"paddingOuter":0.29}, "axis": null}}},
     {"data": {"name": "totaux"}, "transform": [{"filter": {"field": "row", "oneOf": ["1980", "1950"]}}],
      "mark": {"type": "text", "align": "right", "baseline": "middle", "fontSize": 13.5, "color": "#ef4136"},
      "encoding": {"text": {"field": "etiquette", "type": "nominal"},
       "x": {"datum": 3.39, "type": "quantitative", "scale": {"domain":[-1.465,3.484],"nice":false,"zero":false}},
       "y": {"field": "row", "type": "nominal", "scale": {"type":"band","domain":["2011","1980","1950"],"paddingInner":0,"paddingOuter":0.29}, "axis": null}}},
     {"data": {"name": "totaux"}, "transform": [{"filter": {"field": "row", "oneOf": ["2011"]}}],
      "mark": {"type": "text", "align": "right", "baseline": "middle", "fontSize": 13.5, "color": "#ef4136"},
      "encoding": {"text": {"field": "etiquette", "type": "nominal"},
       "x": {"datum": 3.39, "type": "quantitative", "scale": {"domain":[-1.465,3.484],"nice":false,"zero":false}},
       "y": {"field": "row", "type": "nominal", "bandPosition": 0.11, "scale": {"type":"band","domain":["2011","1980","1950"],"paddingInner":0,"paddingOuter":0.29}, "axis": null}}}
    ]
   },
   {
    "width": 73, "height": 172,
    "view": {"fill": "#e3e3e3", "stroke": "#333", "strokeWidth": 1.5},
    "data": {"name": "totaux"},
    "mark": {"type": "text", "align": "center", "baseline": "middle", "fontSize": 15, "fontWeight": "bold", "color": "#111"},
    "encoding": {"text": {"field": "conf", "type": "nominal"},
     "x": {"datum": 0.5, "type": "quantitative", "scale": {"domain":[0,1],"nice":false,"zero":false}, "axis": null},
     "y": {"field": "row", "type": "nominal", "scale": {"type":"band","domain":["2011","1980","1950"],"paddingInner":0,"paddingOuter":0.29}, "axis": null}}
   }
  ]
 }
]
}
